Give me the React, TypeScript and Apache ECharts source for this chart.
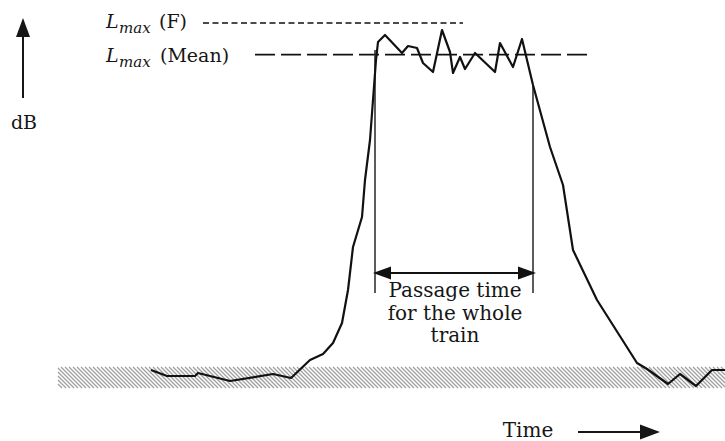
import React, { useEffect, useRef } from "react";
import * as echarts from "echarts";

// Time (s) and level (dB)
const timeSeries: number[] = [
  15.1, 16.7, 19.5, 19.8, 23.0, 27.3, 29.1, 31.0, 32.3, 33.3, 34.2, 34.8, 35.3, 36.2, 36.5,
  37.0, 37.6, 37.8, 38.5, 40.2, 40.8, 41.7, 42.3, 43.3, 44.2, 45.0, 45.3, 46.0, 46.5, 47.5,
  49.5, 50.0, 51.3, 52.2, 52.7, 53.3, 55.0, 56.3, 57.3, 59.7, 63.7, 64.7, 66.8, 68.0, 69.6,
  71.2, 72.5,
];
const levelSeries: number[] = [
  17.75, 16.25, 16.25, 17.0, 15.0, 16.75, 15.75, 20.25, 21.75, 24.5, 29.5, 37.75, 48.5, 56.0, 65.25,
  75.25, 95.25, 99.75, 101.5, 97.0, 98.75, 98.25, 94.5, 92.25, 102.75, 97.25, 92.0, 96.0, 93.0, 97.0,
  92.25, 99.5, 93.5, 100.5, 95.25, 89.0, 73.5, 64.0, 47.75, 35.25, 19.5, 18.0, 14.25, 16.75, 13.75,
  17.75, 17.75,
];

const lmaxF = { level: 104.5, from: 20.3, to: 46.3 };
const lmaxMean = { level: 96.6, from: 25.5, to: 58.8 };
const passageStart = { t: 37.5, top: 97.75, bottom: 37 };
const passageEnd = { t: 53.3, top: 89.0, bottom: 37 };
const passageArrow = { level: 42, from: 38.2, to: 52.7 };
const backgroundBand = { from: 5.8, to: 72.5, low: 13.25, high: 18.5 };

const X_MAX = 72.5;
const Y_MAX = 110.25;

const SERIF = "'DejaVu Serif', 'Liberation Serif', serif";
const INK = "#161616";

export default function App() {
  const ref = useRef<HTMLDivElement>(null);

  useEffect(() => {
    if (!ref.current) return;
    const chart = echarts.init(ref.current, undefined, { renderer: "svg" });

    const curve = timeSeries.map((t, i) => [t, levelSeries[i]]);

    const option: any = {
      animation: false,
      backgroundColor: "#ffffff",
      grid: { left: 0, right: 0, top: 0, bottom: 0, containLabel: false },
      xAxis: { type: "value", min: 0, max: X_MAX, show: false },
      yAxis: { type: "value", min: 0, max: Y_MAX, show: false },
      series: [
        {
          type: "custom",
          z: 1,
          silent: true,
          data: [[backgroundBand.from, backgroundBand.to, backgroundBand.low, backgroundBand.high]],
          encode: { x: [0, 1], y: [2, 3] },
          renderItem: (params: any, api: any) => {
            const tl = api.coord([api.value(0), api.value(3)]);
            const br = api.coord([api.value(1), api.value(2)]);
            const left = tl[0], top = tl[1], right = br[0], bottom = br[1];
            const h = bottom - top;
            const children: any[] = [];
            const step = 4;
            for (let a = left - h; a < right; a += step) {
              let x1 = a, y1 = top, x2 = a + h, y2 = bottom;
              if (x1 < left) { y1 = top + (left - x1); x1 = left; }
              if (x2 > right) { y2 = bottom - (x2 - right); x2 = right; }
              if (x2 <= x1) continue;
              children.push({
                type: "line",
                shape: { x1, y1, x2, y2 },
                style: { stroke: "#a0a0a0", lineWidth: 1.3 },
              });
            }
            return { type: "group", children };
          },
        },
        {
          type: "line",
          z: 5,
          data: curve,
          symbol: "none",
          lineStyle: { color: "#111111", width: 2.2, join: "round" },
        },
        {
          type: "line",
          z: 3,
          data: [[lmaxF.from, lmaxF.level], [lmaxF.to, lmaxF.level]],
          symbol: "none",
          lineStyle: { color: "#111111", width: 1.6, type: [6, 3.5] },
        },
        {
          type: "line",
          z: 3,
          data: [[lmaxMean.from, lmaxMean.level], [lmaxMean.to, lmaxMean.level]],
          symbol: "none",
          lineStyle: { color: "#111111", width: 1.6, type: [20, 6] },
        },
        {
          type: "line",
          z: 4,
          data: [[passageStart.t, passageStart.top], [passageStart.t, passageStart.bottom]],
          symbol: "none",
          lineStyle: { color: "#333333", width: 1.6 },
        },
        {
          type: "line",
          z: 4,
          data: [[passageEnd.t, passageEnd.top], [passageEnd.t, passageEnd.bottom]],
          symbol: "none",
          lineStyle: { color: "#333333", width: 1.6 },
          markLine: {
            silent: true,
            symbol: ["triangle", "triangle"],
            symbolSize: [13, 18],
            label: { show: false },
            lineStyle: { color: "#111111", width: 2, type: "solid" },
            itemStyle: { color: "#111111" },
            data: [
              [
                { coord: [passageArrow.from, passageArrow.level] },
                { coord: [passageArrow.to, passageArrow.level] },
              ],
            ],
          },
        },
      ],
      graphic: [
        // y-axis arrow
        { type: "line", shape: { x1: 23, y1: 98, x2: 23, y2: 34 }, style: { stroke: INK, lineWidth: 2 } },
        { type: "polygon", shape: { points: [[23, 18], [16, 37], [30, 37]] }, style: { fill: INK } },
        { type: "text", x: 24, y: 122, style: { text: "dB", font: `19px ${SERIF}`, fill: INK, align: "center", verticalAlign: "middle" } },
        // Lmax (F)
        { type: "text", x: 106, y: 21, style: { text: "L", font: `italic 19px ${SERIF}`, fill: INK, align: "left", verticalAlign: "middle" } },
        { type: "text", x: 119, y: 28, style: { text: "max", font: `italic 15px ${SERIF}`, fill: INK, align: "left", verticalAlign: "middle" } },
        { type: "text", x: 159, y: 21, style: { text: "(F)", font: `19px ${SERIF}`, fill: INK, align: "left", verticalAlign: "middle" } },
        // Lmax (Mean)
        { type: "text", x: 106, y: 55, style: { text: "L", font: `italic 19px ${SERIF}`, fill: INK, align: "left", verticalAlign: "middle" } },
        { type: "text", x: 119, y: 62, style: { text: "max", font: `italic 15px ${SERIF}`, fill: INK, align: "left", verticalAlign: "middle" } },
        { type: "text", x: 160, y: 55, style: { text: "(Mean)", font: `19px ${SERIF}`, fill: INK, align: "left", verticalAlign: "middle" } },
        // passage text
        { type: "text", x: 455, y: 290, style: { text: "Passage time", font: `20px ${SERIF}`, fill: INK, align: "center", verticalAlign: "middle" } },
        { type: "text", x: 455, y: 313, style: { text: "for the whole", font: `20px ${SERIF}`, fill: INK, align: "center", verticalAlign: "middle" } },
        { type: "text", x: 455, y: 335, style: { text: "train", font: `20px ${SERIF}`, fill: INK, align: "center", verticalAlign: "middle" } },
        // Time arrow
        { type: "text", x: 528, y: 430, style: { text: "Time", font: `20px ${SERIF}`, fill: INK, align: "center", verticalAlign: "middle" } },
        { type: "line", shape: { x1: 578, y1: 432, x2: 645, y2: 432 }, style: { stroke: INK, lineWidth: 2 } },
        { type: "polygon", shape: { points: [[660, 432], [640, 424.5], [640, 439.5]] }, style: { fill: INK } },
      ],
    };

    chart.setOption(option);
    return () => chart.dispose();
  }, []);

  return (
    <div
      ref={ref}
      style={{ position: "absolute", left: 0, top: 0, width: 725, height: 441, background: "#fff" }}
    />
  );
}
